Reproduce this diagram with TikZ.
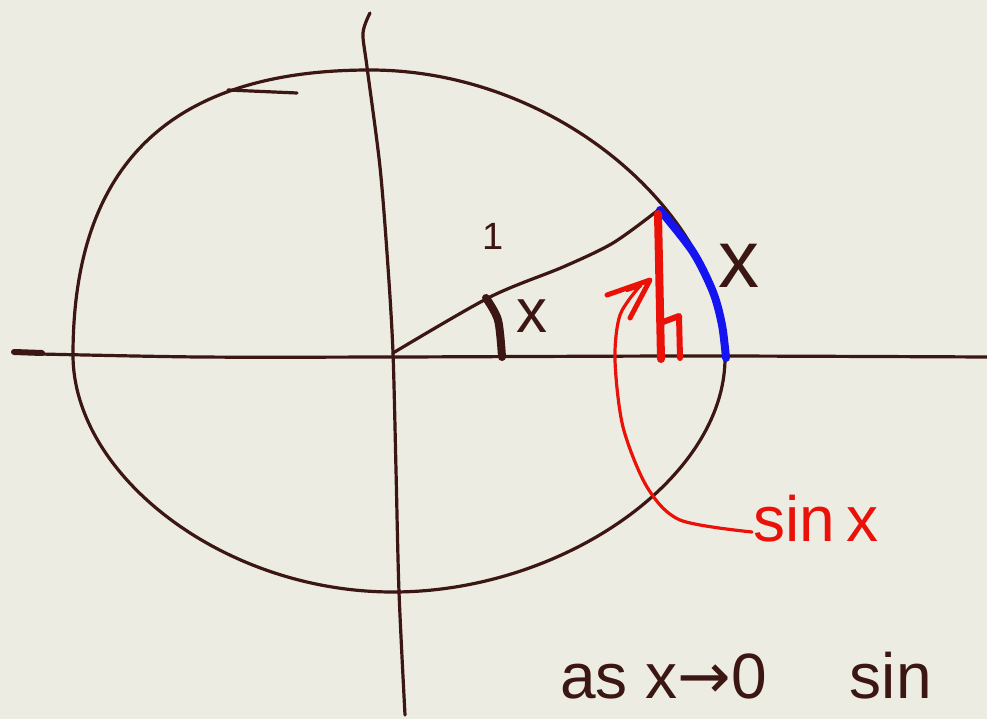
\documentclass[tikz,border=0pt]{standalone}
\usepackage{fontspec}
\setmainfont{Liberation Sans}
\newfontfamily\arrowfont{DejaVu Sans}
\definecolor{paper}{HTML}{ECECE2}
\definecolor{ink}{HTML}{3B1612}
\definecolor{redink}{HTML}{EA1208}
\definecolor{blueink}{HTML}{1414F0}
\tikzset{
  pen/.style={draw=ink, line width=3.2pt, line cap=round, line join=round},
  thickpen/.style={draw=ink, line width=8pt, line cap=round},
  redpen/.style={draw=redink, line width=3.2pt, line cap=round, line join=round},
  redthick/.style={draw=redink, line width=8pt, line cap=round, line join=round},
  bluepen/.style={draw=blueink, line width=8pt, line cap=round},
  inklabel/.style={text=ink, inner sep=0pt},
  redlabel/.style={text=redink, inner sep=0pt},
}
\begin{document}
\begin{tikzpicture}[x=1pt,y=-1pt]
\useasboundingbox (0,0) rectangle (987,719);
\clip (0,0) rectangle (987,719);
\fill[paper] (0,0) rectangle (987,719);

% axes
\draw[pen] plot[smooth] coordinates {(40,354) (200,357) (393,357) (700,356) (987,357)};
\draw[thickpen, line width=6pt] (14,352) -- (42,353);
\draw[pen] plot[smooth] coordinates {(370,13) (363,33) (367,67) (380,167) (388,267) (393,353) (396,470) (399,592) (405,715)};

% circle
\coordinate (T) at (370,70);
\coordinate (R) at (725,358);
\coordinate (B) at (393,592);
\coordinate (L) at (73,355);
\draw[pen] (T) .. controls (560,70) and (725,218) .. (R)
               .. controls (725,478) and (563,592) .. (B)
               .. controls (223,592) and (73,475) .. (L)
               .. controls (73,165) and (170,70) .. (T);
\draw[pen] (228,90) -- (297,93);

% radius
\coordinate (O) at (393,353);
\coordinate (P) at (657,211);
\draw[pen] plot[smooth] coordinates {(393,353) (490,297) (563,267) (613,243) (657,211)};

% angle mark
\draw[thickpen] plot[smooth] coordinates {(486,298) (498,320) (502,357)};

% blue arc
\coordinate (Q) at (726,358);
\draw[bluepen] plot[smooth] coordinates {(660,210) (693,252) (713,292) (722,325) (726,358)};

% red height
\draw[redthick] (658,214) -- (661,359);
\draw[redpen, line width=6pt] (663,322) -- (679,316) -- (680,358);

% red arrow from label
\draw[redpen] plot[smooth] coordinates {(752,532) (680,520) (647,487) (623,427) (615,360) (620,315) (640,286)};
\draw[redpen, line width=5pt] (607,295) -- (650,280) -- (630,318);
\draw[redpen, line width=4pt] (627,290) -- (640,286);

% labels
\node[inklabel, font=\fontsize{38}{40}\selectfont] (one) at (493,236) {1};
\node[inklabel, font=\fontsize{62}{64}\selectfont] (xa) at (532,316) {x};
\node[inklabel, font=\fontsize{82}{84}\selectfont] (xb) at (739,266) {x};
\node[redlabel, font=\fontsize{64}{66}\selectfont] (sinx) at (816,519) {sin\,x};
\node[inklabel, font=\fontsize{64}{66}\selectfont, anchor=base west] (bottom) at (560,698) {as x{\arrowfont →}0\hspace{1.3em}sin};
\end{tikzpicture}
\end{document}
